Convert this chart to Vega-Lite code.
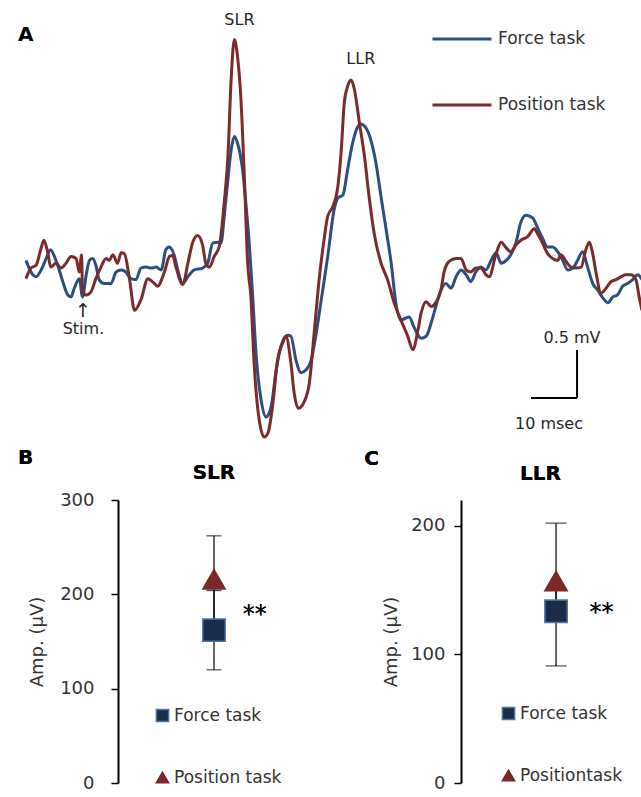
{
  "$schema": "https://vega.github.io/schema/vega-lite/v6.json",
  "padding": {"left": 17, "top": 0, "right": 0, "bottom": 0},
  "background": "white",
  "config": {
    "view": {"stroke": null},
    "font": "DejaVu Sans",
    "text": {"font": "DejaVu Sans"},
    "title": {"font": "DejaVu Sans"},
    "axis": {"labelFont": "DejaVu Sans", "titleFont": "DejaVu Sans"},
    "legend": {"labelFont": "DejaVu Sans"}
  },
  "datasets": {
    "emg": [
      {"task":"Force task","ms":-12.4,"mV":0.10},{"task":"Force task","ms":-10.9,"mV":-0.05},{"task":"Force task","ms":-10.2,"mV":-0.07},{"task":"Force task","ms":-9.1,"mV":0.00},{"task":"Force task","ms":-8.0,"mV":0.12},{"task":"Force task","ms":-7.1,"mV":0.21},{"task":"Force task","ms":-6.2,"mV":0.14},{"task":"Force task","ms":-5.5,"mV":0.05},{"task":"Force task","ms":-4.4,"mV":-0.12},{"task":"Force task","ms":-3.3,"mV":-0.26},{"task":"Force task","ms":-2.6,"mV":-0.28},{"task":"Force task","ms":-1.9,"mV":-0.19},{"task":"Force task","ms":-0.8,"mV":-0.09},{"task":"Force task","ms":-0.1,"mV":-0.28},{"task":"Force task","ms":0.7,"mV":-0.05},{"task":"Force task","ms":1.4,"mV":0.10},{"task":"Force task","ms":2.1,"mV":0.12},{"task":"Force task","ms":2.8,"mV":0.05},{"task":"Force task","ms":3.5,"mV":-0.10},{"task":"Force task","ms":4.6,"mV":-0.14},{"task":"Force task","ms":6.1,"mV":-0.14},{"task":"Force task","ms":7.2,"mV":-0.02},{"task":"Force task","ms":8.3,"mV":0.00},{"task":"Force task","ms":9.3,"mV":-0.02},{"task":"Force task","ms":10.4,"mV":-0.09},{"task":"Force task","ms":11.5,"mV":-0.10},{"task":"Force task","ms":12.6,"mV":0.02},{"task":"Force task","ms":13.7,"mV":0.03},{"task":"Force task","ms":14.8,"mV":0.02},{"task":"Force task","ms":15.9,"mV":0.03},{"task":"Force task","ms":17.0,"mV":0.00},{"task":"Force task","ms":18.0,"mV":0.21},{"task":"Force task","ms":18.7,"mV":0.24},{"task":"Force task","ms":19.8,"mV":0.16},{"task":"Force task","ms":20.6,"mV":0.00},{"task":"Force task","ms":21.7,"mV":-0.14},{"task":"Force task","ms":22.8,"mV":-0.07},{"task":"Force task","ms":24.1,"mV":0.00},{"task":"Force task","ms":26.0,"mV":0.02},{"task":"Force task","ms":27.1,"mV":0.07},{"task":"Force task","ms":28.2,"mV":0.28},{"task":"Force task","ms":29.3,"mV":0.29},{"task":"Force task","ms":30.0,"mV":0.28},{"task":"Force task","ms":30.7,"mV":0.56},{"task":"Force task","ms":31.5,"mV":0.94},{"task":"Force task","ms":32.2,"mV":1.25},{"task":"Force task","ms":32.9,"mV":1.39},{"task":"Force task","ms":33.6,"mV":1.32},{"task":"Force task","ms":34.7,"mV":1.04},{"task":"Force task","ms":35.4,"mV":0.70},{"task":"Force task","ms":36.2,"mV":0.24},{"task":"Force task","ms":36.9,"mV":-0.28},{"task":"Force task","ms":37.6,"mV":-0.86},{"task":"Force task","ms":38.7,"mV":-1.35},{"task":"Force task","ms":39.8,"mV":-1.53},{"task":"Force task","ms":40.9,"mV":-1.42},{"task":"Force task","ms":42.0,"mV":-1.04},{"task":"Force task","ms":43.0,"mV":-0.80},{"task":"Force task","ms":44.5,"mV":-0.68},{"task":"Force task","ms":45.2,"mV":-0.69},{"task":"Force task","ms":46.3,"mV":-0.94},{"task":"Force task","ms":47.4,"mV":-1.07},{"task":"Force task","ms":48.5,"mV":-1.04},{"task":"Force task","ms":49.6,"mV":-0.94},{"task":"Force task","ms":50.7,"mV":-0.66},{"task":"Force task","ms":51.7,"mV":-0.34},{"task":"Force task","ms":53.2,"mV":0.14},{"task":"Force task","ms":54.6,"mV":0.63},{"task":"Force task","ms":55.4,"mV":0.75},{"task":"Force task","ms":56.5,"mV":0.78},{"task":"Force task","ms":57.5,"mV":1.04},{"task":"Force task","ms":58.6,"mV":1.32},{"task":"Force task","ms":59.7,"mV":1.49},{"task":"Force task","ms":60.4,"mV":1.52},{"task":"Force task","ms":61.5,"mV":1.48},{"task":"Force task","ms":62.6,"mV":1.35},{"task":"Force task","ms":63.7,"mV":1.11},{"task":"Force task","ms":64.8,"mV":0.76},{"task":"Force task","ms":65.9,"mV":0.42},{"task":"Force task","ms":67.0,"mV":0.07},{"task":"Force task","ms":68.0,"mV":-0.34},{"task":"Force task","ms":69.1,"mV":-0.52},{"task":"Force task","ms":70.2,"mV":-0.50},{"task":"Force task","ms":70.9,"mV":-0.49},{"task":"Force task","ms":72.0,"mV":-0.60},{"task":"Force task","ms":73.5,"mV":-0.71},{"task":"Force task","ms":74.6,"mV":-0.69},{"task":"Force task","ms":75.7,"mV":-0.55},{"task":"Force task","ms":76.7,"mV":-0.38},{"task":"Force task","ms":77.8,"mV":-0.21},{"task":"Force task","ms":78.9,"mV":-0.14},{"task":"Force task","ms":80.0,"mV":-0.19},{"task":"Force task","ms":81.1,"mV":-0.07},{"task":"Force task","ms":82.2,"mV":0.00},{"task":"Force task","ms":83.3,"mV":-0.05},{"task":"Force task","ms":84.3,"mV":-0.12},{"task":"Force task","ms":85.4,"mV":-0.02},{"task":"Force task","ms":86.5,"mV":0.03},{"task":"Force task","ms":87.6,"mV":0.00},{"task":"Force task","ms":88.7,"mV":0.10},{"task":"Force task","ms":89.8,"mV":0.18},{"task":"Force task","ms":90.9,"mV":0.07},{"task":"Force task","ms":92.0,"mV":0.10},{"task":"Force task","ms":93.0,"mV":0.16},{"task":"Force task","ms":94.1,"mV":0.28},{"task":"Force task","ms":95.2,"mV":0.50},{"task":"Force task","ms":96.3,"mV":0.57},{"task":"Force task","ms":97.8,"mV":0.54},{"task":"Force task","ms":98.8,"mV":0.44},{"task":"Force task","ms":99.9,"mV":0.33},{"task":"Force task","ms":101.0,"mV":0.24},{"task":"Force task","ms":102.1,"mV":0.24},{"task":"Force task","ms":103.2,"mV":0.19},{"task":"Force task","ms":104.3,"mV":0.10},{"task":"Force task","ms":105.4,"mV":0.00},{"task":"Force task","ms":106.5,"mV":0.02},{"task":"Force task","ms":107.5,"mV":0.10},{"task":"Force task","ms":108.6,"mV":0.19},{"task":"Force task","ms":109.7,"mV":0.03},{"task":"Force task","ms":110.8,"mV":-0.14},{"task":"Force task","ms":111.9,"mV":-0.21},{"task":"Force task","ms":113.0,"mV":-0.29},{"task":"Force task","ms":114.1,"mV":-0.34},{"task":"Force task","ms":115.2,"mV":-0.28},{"task":"Force task","ms":116.2,"mV":-0.26},{"task":"Force task","ms":117.3,"mV":-0.17},{"task":"Force task","ms":118.4,"mV":-0.14},{"task":"Force task","ms":119.5,"mV":-0.10},{"task":"Force task","ms":120.6,"mV":-0.05},{"task":"Force task","ms":121.5,"mV":-0.10},
      {"task":"Position task","ms":-12.4,"mV":-0.09},{"task":"Position task","ms":-11.3,"mV":0.02},{"task":"Position task","ms":-10.2,"mV":0.05},{"task":"Position task","ms":-9.1,"mV":0.23},{"task":"Position task","ms":-8.5,"mV":0.31},{"task":"Position task","ms":-7.7,"mV":0.19},{"task":"Position task","ms":-7.0,"mV":0.03},{"task":"Position task","ms":-5.9,"mV":0.07},{"task":"Position task","ms":-4.8,"mV":0.02},{"task":"Position task","ms":-3.7,"mV":0.07},{"task":"Position task","ms":-2.6,"mV":0.14},{"task":"Position task","ms":-1.5,"mV":0.12},{"task":"Position task","ms":-0.8,"mV":-0.02},{"task":"Position task","ms":-0.3,"mV":0.16},{"task":"Position task","ms":-0.1,"mV":-0.23},{"task":"Position task","ms":0.7,"mV":-0.26},{"task":"Position task","ms":1.7,"mV":-0.23},{"task":"Position task","ms":2.8,"mV":-0.09},{"task":"Position task","ms":3.9,"mV":0.03},{"task":"Position task","ms":5.0,"mV":0.12},{"task":"Position task","ms":5.7,"mV":0.10},{"task":"Position task","ms":6.5,"mV":0.16},{"task":"Position task","ms":7.5,"mV":0.07},{"task":"Position task","ms":8.3,"mV":0.18},{"task":"Position task","ms":9.0,"mV":0.17},{"task":"Position task","ms":10.1,"mV":-0.09},{"task":"Position task","ms":11.2,"mV":-0.42},{"task":"Position task","ms":12.6,"mV":-0.31},{"task":"Position task","ms":14.1,"mV":-0.09},{"task":"Position task","ms":15.5,"mV":-0.14},{"task":"Position task","ms":16.2,"mV":-0.17},{"task":"Position task","ms":17.7,"mV":-0.02},{"task":"Position task","ms":18.8,"mV":0.14},{"task":"Position task","ms":19.5,"mV":0.15},{"task":"Position task","ms":20.2,"mV":0.03},{"task":"Position task","ms":21.7,"mV":-0.15},{"task":"Position task","ms":22.8,"mV":0.07},{"task":"Position task","ms":23.8,"mV":0.28},{"task":"Position task","ms":24.9,"mV":0.36},{"task":"Position task","ms":26.0,"mV":0.26},{"task":"Position task","ms":26.7,"mV":0.07},{"task":"Position task","ms":27.5,"mV":0.03},{"task":"Position task","ms":28.5,"mV":0.14},{"task":"Position task","ms":29.6,"mV":0.24},{"task":"Position task","ms":30.7,"mV":0.70},{"task":"Position task","ms":31.5,"mV":1.18},{"task":"Position task","ms":32.2,"mV":1.98},{"task":"Position task","ms":32.9,"mV":2.40},{"task":"Position task","ms":33.6,"mV":2.22},{"task":"Position task","ms":34.3,"mV":1.81},{"task":"Position task","ms":35.1,"mV":0.94},{"task":"Position task","ms":35.8,"mV":0.07},{"task":"Position task","ms":36.5,"mV":-0.28},{"task":"Position task","ms":37.2,"mV":-0.97},{"task":"Position task","ms":38.3,"mV":-1.56},{"task":"Position task","ms":39.4,"mV":-1.74},{"task":"Position task","ms":40.2,"mV":-1.70},{"task":"Position task","ms":41.2,"mV":-1.42},{"task":"Position task","ms":42.3,"mV":-0.94},{"task":"Position task","ms":43.4,"mV":-0.76},{"task":"Position task","ms":44.1,"mV":-0.69},{"task":"Position task","ms":45.2,"mV":-0.97},{"task":"Position task","ms":45.9,"mV":-1.28},{"task":"Position task","ms":46.8,"mV":-1.44},{"task":"Position task","ms":48.1,"mV":-1.37},{"task":"Position task","ms":49.2,"mV":-1.18},{"task":"Position task","ms":50.3,"mV":-0.63},{"task":"Position task","ms":51.4,"mV":-0.07},{"task":"Position task","ms":52.5,"mV":0.35},{"task":"Position task","ms":53.2,"mV":0.56},{"task":"Position task","ms":54.3,"mV":0.66},{"task":"Position task","ms":55.4,"mV":0.87},{"task":"Position task","ms":56.1,"mV":1.22},{"task":"Position task","ms":56.8,"mV":1.74},{"task":"Position task","ms":57.5,"mV":1.91},{"task":"Position task","ms":58.3,"mV":1.98},{"task":"Position task","ms":59.0,"mV":1.88},{"task":"Position task","ms":60.1,"mV":1.53},{"task":"Position task","ms":61.2,"mV":1.18},{"task":"Position task","ms":62.2,"mV":0.76},{"task":"Position task","ms":63.3,"mV":0.38},{"task":"Position task","ms":64.8,"mV":0.07},{"task":"Position task","ms":66.2,"mV":-0.10},{"task":"Position task","ms":67.7,"mV":-0.35},{"task":"Position task","ms":69.1,"mV":-0.52},{"task":"Position task","ms":70.6,"mV":-0.69},{"task":"Position task","ms":71.7,"mV":-0.83},{"task":"Position task","ms":72.8,"mV":-0.63},{"task":"Position task","ms":73.5,"mV":-0.45},{"task":"Position task","ms":74.6,"mV":-0.33},{"task":"Position task","ms":75.7,"mV":-0.38},{"task":"Position task","ms":76.7,"mV":-0.34},{"task":"Position task","ms":77.8,"mV":-0.21},{"task":"Position task","ms":78.5,"mV":-0.02},{"task":"Position task","ms":79.6,"mV":0.09},{"task":"Position task","ms":81.1,"mV":0.12},{"task":"Position task","ms":82.2,"mV":0.12},{"task":"Position task","ms":83.3,"mV":0.00},{"task":"Position task","ms":84.3,"mV":-0.02},{"task":"Position task","ms":85.4,"mV":0.02},{"task":"Position task","ms":86.5,"mV":0.02},{"task":"Position task","ms":87.6,"mV":-0.05},{"task":"Position task","ms":88.3,"mV":-0.07},{"task":"Position task","ms":89.8,"mV":0.17},{"task":"Position task","ms":90.9,"mV":0.29},{"task":"Position task","ms":92.0,"mV":0.23},{"task":"Position task","ms":93.0,"mV":0.19},{"task":"Position task","ms":94.1,"mV":0.26},{"task":"Position task","ms":95.2,"mV":0.31},{"task":"Position task","ms":96.7,"mV":0.35},{"task":"Position task","ms":98.1,"mV":0.43},{"task":"Position task","ms":98.8,"mV":0.38},{"task":"Position task","ms":99.9,"mV":0.28},{"task":"Position task","ms":101.0,"mV":0.17},{"task":"Position task","ms":102.1,"mV":0.12},{"task":"Position task","ms":103.2,"mV":0.10},{"task":"Position task","ms":103.9,"mV":0.16},{"task":"Position task","ms":105.0,"mV":0.09},{"task":"Position task","ms":106.1,"mV":0.03},{"task":"Position task","ms":107.2,"mV":0.02},{"task":"Position task","ms":108.3,"mV":0.03},{"task":"Position task","ms":109.3,"mV":0.21},{"task":"Position task","ms":110.1,"mV":0.29},{"task":"Position task","ms":110.8,"mV":0.17},{"task":"Position task","ms":111.5,"mV":-0.02},{"task":"Position task","ms":112.6,"mV":-0.24},{"task":"Position task","ms":113.7,"mV":-0.19},{"task":"Position task","ms":114.8,"mV":-0.12},{"task":"Position task","ms":115.9,"mV":-0.10},{"task":"Position task","ms":117.0,"mV":-0.07},{"task":"Position task","ms":118.0,"mV":-0.05},{"task":"Position task","ms":119.1,"mV":-0.05},{"task":"Position task","ms":120.2,"mV":-0.10},{"task":"Position task","ms":120.9,"mV":-0.28},{"task":"Position task","ms":121.5,"mV":-0.42}
    ]
  },
  "spacing": 2,
  "resolve": {
    "scale": {"color": "independent", "shape": "independent", "stroke": "independent", "x": "independent", "y": "independent"},
    "legend": {"color": "independent", "shape": "independent"}
  },
  "vconcat": [
    {
      "width": 524,
      "height": 446,
      "layer": [
        {
          "data": {"name": "emg"},
          "mark": {"type": "line", "strokeWidth": 3, "interpolate": "monotone"},
          "encoding": {
            "x": {"field": "ms", "type": "quantitative", "scale": {"domain": [7.609, 121.52], "nice": false, "zero": false}, "axis": null},
            "y": {"field": "mV", "type": "quantitative", "scale": {"domain": [-1.8333, 2.8125], "nice": false, "zero": false}, "axis": null},
            "color": {
              "field": "task", "type": "nominal",
              "scale": {"domain": ["Force task", "Position task"], "range": ["#2A5082", "#7D2A2A"]},
              "legend": {"title": null, "orient": "none", "legendX": 313, "legendY": 8, "symbolType": "stroke", "symbolSize": 3481, "symbolStrokeWidth": 3, "labelFontSize": 17, "labelColor": "#333333", "labelOffset": 5, "rowPadding": 27}
            }
          }
        },
        {
          "data": {"values": [
            {"ms": 97.4, "ms2": 107.4, "mV": -1.333, "mV2": -1.333},
            {"ms": 107.4, "ms2": 107.4, "mV": -1.333, "mV2": -0.833}
          ]},
          "mark": {"type": "rule", "strokeWidth": 2, "color": "#000000"},
          "encoding": {
            "x": {"field": "ms", "type": "quantitative"},
            "x2": {"field": "ms2"},
            "y": {"field": "mV", "type": "quantitative"},
            "y2": {"field": "mV2"}
          }
        },
        {
          "data": {"values": [
            {"label": "SLR", "ms": 34.0, "mV": 2.604},
            {"label": "LLR", "ms": 60.4, "mV": 2.195},
            {"label": "Stim.", "ms": 0.1, "mV": -0.618},
            {"label": "0.5 mV", "ms": 106.3, "mV": -0.708},
            {"label": "10 msec", "ms": 101.3, "mV": -1.604}
          ]},
          "mark": {"type": "text", "fontSize": 16, "color": "#262626", "align": "center", "baseline": "middle"},
          "encoding": {
            "x": {"field": "ms", "type": "quantitative"},
            "y": {"field": "mV", "type": "quantitative"},
            "text": {"field": "label"}
          }
        },
        {
          "data": {"values": [{"label": "↑", "ms": 0.0, "mV": -0.43}]},
          "mark": {"type": "text", "fontSize": 19, "color": "#262626", "align": "center", "baseline": "middle"},
          "encoding": {
            "x": {"field": "ms", "type": "quantitative"},
            "y": {"field": "mV", "type": "quantitative"},
            "text": {"field": "label"}
          }
        },
        {
          "data": {"values": [{"label": "A", "ms": -14.13, "mV": 2.443}]},
          "mark": {"type": "text", "fontSize": 20, "fontWeight": "bold", "color": "#000000", "align": "left", "baseline": "middle"},
          "encoding": {
            "x": {"field": "ms", "type": "quantitative"},
            "y": {"field": "mV", "type": "quantitative"},
            "text": {"field": "label"}
          }
        }
      ]
    },
    {
      "spacing": 54,
      "resolve": {
        "scale": {"color": "independent", "shape": "independent", "stroke": "independent", "x": "independent", "y": "independent"},
        "legend": {"color": "independent", "shape": "independent"}
      },
      "hconcat": [
        {
          "width": 192,
          "height": 283,
          "data": {"values": [
            {"task": "Force task", "amp": 162, "lo": 120, "hi": 204},
            {"task": "Position task", "amp": 216, "lo": 168, "hi": 262}
          ]},
          "layer": [
            {
              "mark": {"type": "rule", "color": "#000000", "strokeWidth": 1.2},
              "encoding": {
                "x": {"datum": 5, "type": "quantitative", "scale": {"domain": [0, 10], "nice": false, "zero": false}, "axis": null},
                "y": {"field": "lo", "type": "quantitative", "scale": {"domain": [0, 300], "nice": false},
                  "axis": {"title": "Amp. (µV)", "values": [0, 100, 200, 300], "grid": false, "domainColor": "#000000", "domainWidth": 2, "tickColor": "#000000", "tickWidth": 1.5, "tickSize": 7, "labelFontSize": 18, "labelColor": "#333333", "labelPadding": 17, "titleFontSize": 18, "titleFontWeight": "normal", "titleColor": "#333333", "titlePadding": 13}},
                "y2": {"field": "hi"}
              }
            },
            {
              "mark": {"type": "tick", "orient": "horizontal", "color": "#000000", "size": 15, "thickness": 1.2},
              "encoding": {"x": {"datum": 5, "type": "quantitative"}, "y": {"field": "lo", "type": "quantitative"}}
            },
            {
              "mark": {"type": "tick", "orient": "horizontal", "color": "#000000", "size": 15, "thickness": 1.2},
              "encoding": {"x": {"datum": 5, "type": "quantitative"}, "y": {"field": "hi", "type": "quantitative"}}
            },
            {
              "mark": {"type": "point", "filled": true, "opacity": 1, "strokeWidth": 1.5, "size": 500},
              "encoding": {
                "x": {"datum": 5, "type": "quantitative"},
                "y": {"field": "amp", "type": "quantitative"},
                "color": {"field": "task", "type": "nominal", "scale": {"domain": ["Force task", "Position task"], "range": ["#1B2C4A", "#7A2828"]},
                  "legend": {"title": null, "orient": "none", "legendX": 36, "legendY": 207, "symbolSize": 150, "labelFontSize": 17, "labelColor": "#333333", "labelOffset": 3, "rowPadding": 43}},
                "shape": {"field": "task", "type": "nominal", "scale": {"domain": ["Force task", "Position task"], "range": ["square", "triangle-up"]},
                  "legend": {"title": null, "orient": "none", "legendX": 36, "legendY": 207, "symbolSize": 150, "labelFontSize": 17, "labelColor": "#333333", "labelOffset": 3, "rowPadding": 43}},
                "stroke": {"field": "task", "type": "nominal", "scale": {"domain": ["Force task", "Position task"], "range": ["#4E75A8", "#7A2828"]}, "legend": null}
              }
            },
            {
              "mark": {"type": "text", "fontSize": 24, "color": "#000000", "align": "center", "baseline": "middle"},
              "encoding": {"x": {"datum": 7.12, "type": "quantitative"}, "y": {"datum": 178, "type": "quantitative"}, "text": {"value": "**"}}
            },
            {
              "mark": {"type": "text", "fontSize": 20, "fontWeight": "bold", "color": "#000000", "align": "center", "baseline": "middle"},
              "encoding": {"x": {"datum": 5, "type": "quantitative"}, "y": {"datum": 328.5, "type": "quantitative"}, "text": {"value": "SLR"}}
            },
            {
              "mark": {"type": "text", "fontSize": 20, "fontWeight": "bold", "color": "#000000", "align": "left", "baseline": "middle"},
              "encoding": {"x": {"datum": -5.21, "type": "quantitative"}, "y": {"datum": 344, "type": "quantitative"}, "text": {"value": "B"}}
            }
          ]
        },
        {
          "width": 160,
          "height": 283,
          "data": {"values": [
            {"task": "Force task", "amp": 133.5, "lo": 91, "hi": 150},
            {"task": "Position task", "amp": 157, "lo": 140, "hi": 202}
          ]},
          "layer": [
            {
              "mark": {"type": "rule", "color": "#000000", "strokeWidth": 1.2},
              "encoding": {
                "x": {"datum": 5.94, "type": "quantitative", "scale": {"domain": [0, 10], "nice": false, "zero": false}, "axis": null},
                "y": {"field": "lo", "type": "quantitative", "scale": {"domain": [0, 220], "nice": false},
                  "axis": {"title": "Amp. (µV)", "values": [0, 100, 200], "grid": false, "domainColor": "#000000", "domainWidth": 2, "tickColor": "#000000", "tickWidth": 1.5, "tickSize": 7, "labelFontSize": 18, "labelColor": "#333333", "labelPadding": 9, "titleFontSize": 18, "titleFontWeight": "normal", "titleColor": "#333333", "titlePadding": 10}},
                "y2": {"field": "hi"}
              }
            },
            {
              "mark": {"type": "tick", "orient": "horizontal", "color": "#000000", "size": 21, "thickness": 1.2},
              "encoding": {"x": {"datum": 5.94, "type": "quantitative"}, "y": {"field": "lo", "type": "quantitative"}}
            },
            {
              "mark": {"type": "tick", "orient": "horizontal", "color": "#000000", "size": 21, "thickness": 1.2},
              "encoding": {"x": {"datum": 5.94, "type": "quantitative"}, "y": {"field": "hi", "type": "quantitative"}}
            },
            {
              "mark": {"type": "point", "filled": true, "opacity": 1, "strokeWidth": 1.5, "size": 500},
              "encoding": {
                "x": {"datum": 5.94, "type": "quantitative"},
                "y": {"field": "amp", "type": "quantitative"},
                "color": {"field": "task", "type": "nominal", "scale": {"domain": ["Force task", "Position task"], "range": ["#1B2C4A", "#7A2828"]},
                  "legend": {"title": null, "orient": "none", "legendX": 39, "legendY": 205, "symbolSize": 150, "labelFontSize": 17, "labelColor": "#333333", "labelOffset": 3, "rowPadding": 43, "labelExpr": "datum.label == 'Position task' ? 'Positiontask' : datum.label"}},
                "shape": {"field": "task", "type": "nominal", "scale": {"domain": ["Force task", "Position task"], "range": ["square", "triangle-up"]},
                  "legend": {"title": null, "orient": "none", "legendX": 39, "legendY": 205, "symbolSize": 150, "labelFontSize": 17, "labelColor": "#333333", "labelOffset": 3, "rowPadding": 43, "labelExpr": "datum.label == 'Position task' ? 'Positiontask' : datum.label"}},
                "stroke": {"field": "task", "type": "nominal", "scale": {"domain": ["Force task", "Position task"], "range": ["#4E75A8", "#7A2828"]}, "legend": null}
              }
            },
            {
              "mark": {"type": "text", "fontSize": 24, "color": "#000000", "align": "center", "baseline": "middle"},
              "encoding": {"x": {"datum": 8.78, "type": "quantitative"}, "y": {"datum": 132, "type": "quantitative"}, "text": {"value": "**"}}
            },
            {
              "mark": {"type": "text", "fontSize": 20, "fontWeight": "bold", "color": "#000000", "align": "center", "baseline": "middle"},
              "encoding": {"x": {"datum": 4.97, "type": "quantitative"}, "y": {"datum": 240.4, "type": "quantitative"}, "text": {"value": "LLR"}}
            },
            {
              "mark": {"type": "text", "fontSize": 20, "fontWeight": "bold", "color": "#000000", "align": "left", "baseline": "middle"},
              "encoding": {"x": {"datum": -6.04, "type": "quantitative"}, "y": {"datum": 251.6, "type": "quantitative"}, "text": {"value": "C"}}
            }
          ]
        }
      ]
    }
  ]
}
